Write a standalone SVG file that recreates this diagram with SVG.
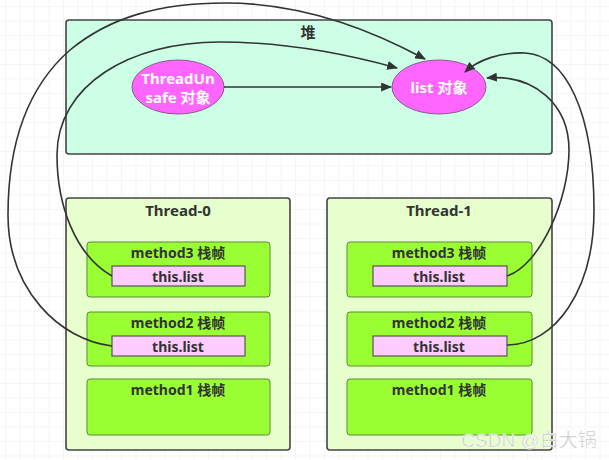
<svg xmlns="http://www.w3.org/2000/svg" width="609" height="460" viewBox="0 0 609 460">
<style>
.t{font-family:"Noto Sans","Noto Sans CJK SC",sans-serif;font-weight:bold;text-anchor:middle;dominant-baseline:central;fill:#333}
.w{fill:#fff;font-size:15px}
.heap{fill:#ccffe6;stroke:#444;stroke-width:1.6}
.thr{fill:#e6ffcc;stroke:#444;stroke-width:1.6}
.frm{fill:#99ff33;stroke:#5c8a3a;stroke-width:1}
.ref{fill:#ffccff;stroke:#555;stroke-width:1.2}
.obj{fill:#ff66ff;stroke:#8a5a8a;stroke-width:1}
.c{fill:none;stroke:#333;stroke-width:1.6;marker-end:url(#ah)}
</style>
<defs>
<pattern id="grid" width="14.5" height="14.5" patternUnits="userSpaceOnUse" x="5" y="6">
<path d="M0 0H14.5M0 0V14.5" fill="none" stroke="#ececec" stroke-width="1"/>
</pattern>
<marker id="ah" viewBox="0 0 10 10" refX="9" refY="5" markerWidth="11" markerHeight="9" markerUnits="userSpaceOnUse" orient="auto" preserveAspectRatio="none">
<path d="M0 0L10 5L0 10Z" fill="#333"/>
</marker>
</defs>
<rect width="609" height="460" fill="#fff"/>
<rect width="609" height="460" fill="url(#grid)"/>

<g id="heap">
<rect class="heap" x="66" y="20" width="486" height="134" rx="3"/>
<text class="t" x="308" y="32" font-size="15">堆</text>
</g>
<g id="threadunsafe">
<ellipse class="obj" cx="178" cy="87" rx="46" ry="27"/>
<text class="t w" x="178" y="78">ThreadUn</text>
<text class="t w" x="178" y="97">safe 对象</text>
</g>
<g id="list">
<ellipse class="obj" cx="439" cy="87" rx="47" ry="27"/>
<text class="t w" x="439" y="87">list 对象</text>
</g>

<g id="thread0">
<rect class="thr" x="66" y="198" width="224" height="252" rx="3"/>
<text class="t" x="178" y="210" font-size="15">Thread-0</text>
</g>
<g id="t0m3">
<rect class="frm" x="87" y="242" width="183" height="55" rx="3"/>
<text class="t" x="178" y="252" font-size="14">method3 栈帧</text>
</g>
<g id="t0m3ref">
<rect class="ref" x="112" y="266" width="133" height="20"/>
<text class="t" x="178" y="276" font-size="14">this.list</text>
</g>
<g id="t0m2">
<rect class="frm" x="87" y="312" width="183" height="54" rx="3"/>
<text class="t" x="178" y="322" font-size="14">method2 栈帧</text>
</g>
<g id="t0m2ref">
<rect class="ref" x="112" y="336" width="133" height="20"/>
<text class="t" x="178" y="346" font-size="14">this.list</text>
</g>
<g id="t0m1">
<rect class="frm" x="87" y="379" width="183" height="56" rx="3"/>
<text class="t" x="178" y="389" font-size="14">method1 栈帧</text>
</g>

<g id="thread1">
<rect class="thr" x="327" y="198" width="225" height="252" rx="3"/>
<text class="t" x="439" y="210" font-size="15">Thread-1</text>
</g>
<g id="t1m3">
<rect class="frm" x="347" y="242" width="185" height="55" rx="3"/>
<text class="t" x="439" y="252" font-size="14">method3 栈帧</text>
</g>
<g id="t1m3ref">
<rect class="ref" x="373" y="266" width="134" height="20"/>
<text class="t" x="439" y="276" font-size="14">this.list</text>
</g>
<g id="t1m2">
<rect class="frm" x="347" y="312" width="185" height="54" rx="3"/>
<text class="t" x="439" y="322" font-size="14">method2 栈帧</text>
</g>
<g id="t1m2ref">
<rect class="ref" x="373" y="336" width="134" height="20"/>
<text class="t" x="439" y="346" font-size="14">this.list</text>
</g>
<g id="t1m1">
<rect class="frm" x="347" y="379" width="185" height="56" rx="3"/>
<text class="t" x="439" y="389" font-size="14">method1 栈帧</text>
</g>

<g id="connectors">
<path class="c" d="M224,87 L391,87"/>
<path class="c" d="M112,276 C75,255 57,205 57,155 C57,85 130,42 220,42 C290,42 350,55 397,68"/>
<path class="c" d="M112,346 C60,340 8,290 8,215 C8,140 30,85 70,50 C110,17 160,3 225,3 C310,3 380,35 425,59"/>
<path class="c" d="M507,276 C540,265 569,200 569,150 C569,105 535,74 487,78"/>
<path class="c" d="M507,345 C555,345 594,290 594,210 C594,110 565,55 525,53 C500,52 478,60 465,72"/>
</g>

<text x="529" y="440" font-family="Liberation Sans,Noto Sans CJK SC,sans-serif" font-size="19" fill="#c4c4c4" stroke="#fff" stroke-width="0.5" text-anchor="middle" dominant-baseline="central">CSDN @白大锅</text>
</svg>
